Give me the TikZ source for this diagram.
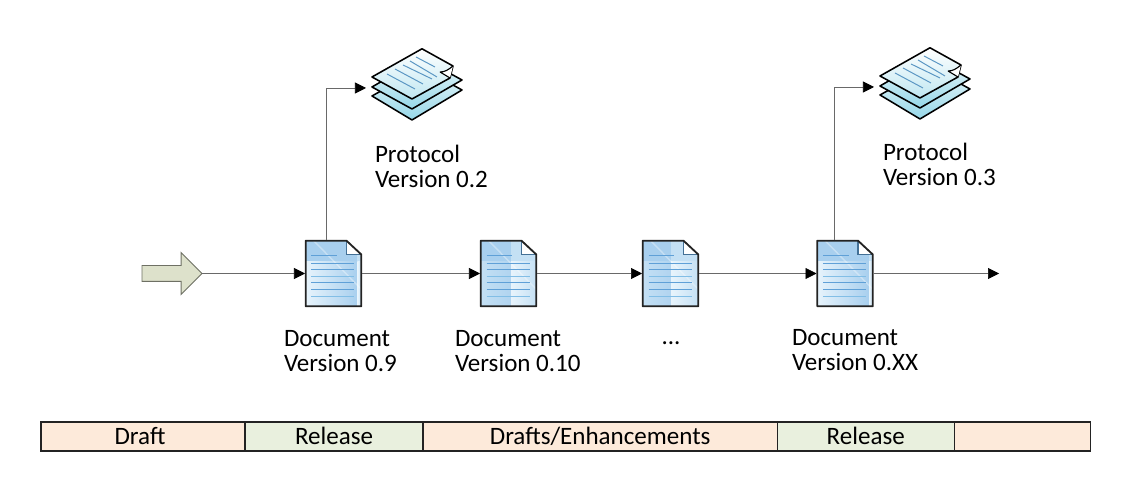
\documentclass[tikz,border=0pt]{standalone}
\usepackage{fontspec}
\setmainfont{Carlito}
\usetikzlibrary{arrows.meta, positioning, shapes.arrows}
\definecolor{peachbg}{RGB}{253,234,218}
\definecolor{relgreen}{RGB}{233,240,222}
\definecolor{arrowgreen}{RGB}{221,225,203}
\definecolor{arrowline}{RGB}{110,112,100}
\definecolor{linkgray}{RGB}{105,105,105}
\definecolor{inkdark}{RGB}{35,35,35}
\definecolor{docblue}{RGB}{168,207,238}
\definecolor{docpale}{RGB}{196,224,244}
\definecolor{docwhite}{RGB}{232,244,252}
\definecolor{rulemid}{RGB}{95,160,215}
\definecolor{rulepale}{RGB}{130,190,230}
\definecolor{sheettop}{RGB}{236,248,251}
\definecolor{sheetlow}{RGB}{150,215,232}
\definecolor{sheetline}{RGB}{90,150,195}
% #1 node, #2 split position, #3 and #4 body colours left of it
\newcommand{\docicon}[4]{%
  \begin{scope}[shift={(#1.north west)}]
    \begin{scope}
      \clip (0.7,0.7) -- (41.5,0.7) -- (56.3,14.5) -- (56.3,66.3) -- (0.7,66.3) -- cycle;
      \fill[docblue] (0,0) rectangle (#2,22);
      \fill[docpale] (#2,0) rectangle (57,22);
      \shade[left color=#3,right color=#4] (0,22) rectangle (#2,67);
      \shade[left color=docwhite,right color=docpale] (#2,22) rectangle (57,67);
      \draw[white,opacity=.35,line width=1pt] (8,0) -- (57,50);
      \draw[rulemid,line width=.7pt] (6.5,16) -- (32,16);
      \foreach \ypos/\tone in {23.5/rulemid,30/rulemid,36.5/rulepale,43/rulemid,50/rulemid,56.5/rulepale}
        \draw[\tone,line width=.7pt] (6.5,\ypos) -- (49.5,\ypos);
    \end{scope}
    \fill[white] (41.5,0.7) -- (41.5,14.5) -- (56.3,14.5) -- cycle;
    \draw[rulemid!70!black,line width=.8pt] (41.5,0.7) -- (41.5,14.5) -- (56.3,14.5);
    \draw[inkdark,line width=1.3pt,line join=round]
      (0.7,0.7) -- (41.5,0.7) -- (56.3,14.5) -- (56.3,66.3) -- (0.7,66.3) -- cycle;
  \end{scope}}
% local origin is the top left of the node box
\newcommand{\stackicon}[1]{%
  \begin{scope}[shift={(#1.north west)},line join=round]
    \shade[draw=black,line width=1.1pt,top color=sheettop,bottom color=sheetlow]
      (6,48) -- (56,20) -- (96,42) -- (46,72) -- cycle;
    \shade[draw=black,line width=1.1pt,top color=sheettop,bottom color=sheetlow]
      (6,39) -- (56,10) -- (96,32) -- (46,61) -- cycle;
    \shade[draw=black,line width=1.1pt,top color=white,bottom color=sheetlow!60]
      (6,29) -- (56,0.8) -- (87,18) -- (84,30) -- (46,51) -- cycle;
    \fill[white] (74,24) .. controls (79,24) and (82,22) .. (87,18) -- (84,30) -- cycle;
    \draw[black,line width=.8pt] (74,24) .. controls (79,24) and (82,22) .. (87,18)
      (74,24) -- (84,30);
    \foreach \xa/\ya/\xb/\yb in {21/26/49/41,29/21/57/36,37/17/66/31,44/13/71/29,50/9/69/19}
      \draw[sheetline,line width=.7pt] (\xa,\ya) -- (\xb,\yb);
  \end{scope}}

\begin{document}
\begin{tikzpicture}[
  x=0.025cm,y=-0.025cm,
  every node/.style={font=\fontsize{17.8}{18.1}\selectfont,inner sep=0pt,outer sep=0pt},
  docbox/.style={minimum width=1.425cm,minimum height=1.675cm},
  stackbox/.style={minimum width=2.55cm,minimum height=2cm},
  startarrow/.style={single arrow,draw=arrowline,fill=arrowgreen,line width=.7pt,
    inner ysep=.1875cm,minimum height=1.5cm,anchor=tail,
    single arrow head extend=.325cm,single arrow head indent=0pt},
  lab/.style={align=left,anchor=north west},
  seg/.style={draw=inkdark,line width=.9pt,minimum height=.725cm,text height=.5cm,text depth=.1cm},
  arr/.style={linkgray,line width=.5pt,-{Triangle[black,length=2.75mm,width=2.75mm]}}
]
\useasboundingbox (0,0) rectangle (1129,490);

\node[startarrow] (start) at (142,273.5) {};

\node[docbox] (docA) at (333.5,273.5) {};
\node[docbox] (docB) at (508.5,273.5) {};
\node[docbox] (docC) at (670.5,273.5) {};
\node[docbox] (docD) at (845,273.5) {};
\coordinate (endpt) at (999,273.5);
\docicon{docA}{52.5}{docwhite}{docblue}
\docicon{docB}{31}{docpale}{docblue!90}
\docicon{docC}{29}{docpale}{docblue!90}
\docicon{docD}{52.5}{docwhite}{docblue}

\node[stackbox] (protoA) at (417,88) {};
\node[stackbox] (protoB) at (925,87) {};
\stackicon{protoA}
\stackicon{protoB}

% labels
\node[lab] (labA) at (284,330) {Document\\Version 0.9};
\node[lab] (labB) at (455,330) {Document\\Version 0.10};
\node[anchor=north] (labC) at (671,342) {...};
\node[lab] (labD) at (792,329) {Document\\Version 0.XX};
\node[lab] (labP) at (375,145) {Protocol\\Version 0.2};
\node[lab] (labQ) at (883,143) {Protocol\\Version 0.3};

% main line
\draw[arr] (start.tip) -- (docA.west);
\draw[arr] (docA.east) -- (docB.west);
\draw[arr] (docB.east) -- (docC.west);
\draw[arr] (docC.east) -- (docD.west);
\draw[arr] (docD.east) -- (endpt);

% up to protocols
\draw[arr] ([xshift=-.19cm]docA.north) |- (protoA.west);
\draw[arr] ([xshift=-.26cm]docD.north) |- (protoB.west);

% phase bar
\node[seg,fill=peachbg,minimum width=5.1cm,anchor=north west] (phA) at (41,422) {Draft\kern.15cm\relax};
\node[seg,fill=relgreen,minimum width=4.45cm,right=0pt of phA] (phB) {Release};
\node[seg,fill=peachbg,minimum width=8.85cm,right=0pt of phB] (phC) {Drafts/Enhancements};
\node[seg,fill=relgreen,minimum width=4.425cm,right=0pt of phC] (phD) {Release};
\node[seg,fill=peachbg,minimum width=3.4cm,right=0pt of phD] (phE) {};

\end{tikzpicture}
\end{document}
